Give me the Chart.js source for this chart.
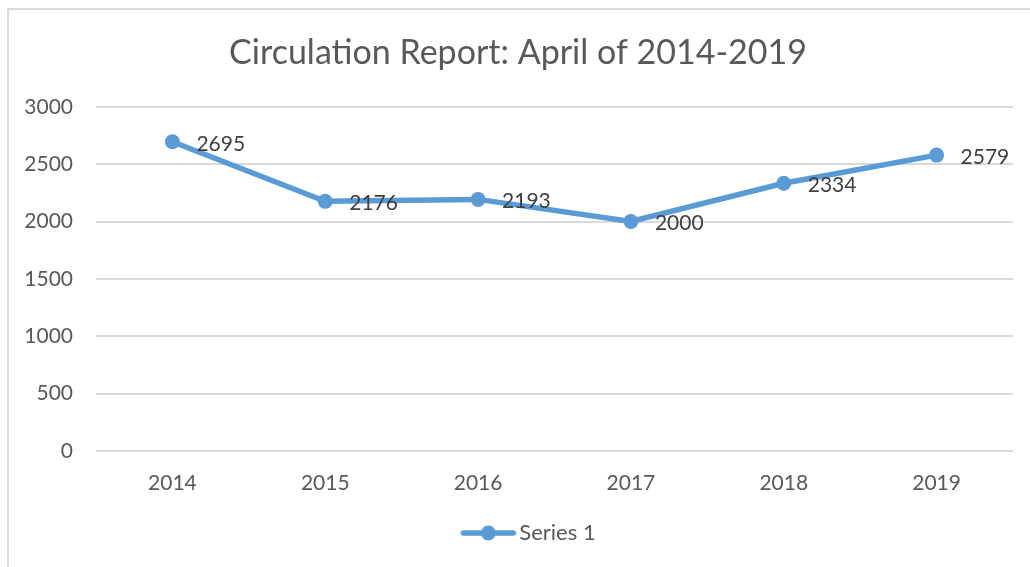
<!DOCTYPE html>
<html>
<head>
<meta charset="utf-8">
<script src="https://cdn.jsdelivr.net/npm/chart.js@4.4.1/dist/chart.umd.min.js"></script>
<style>
  html, body { margin: 0; padding: 0; background: #fff; overflow: hidden; }
  #wrap { position: relative; width: 1030px; height: 567px; }
  #frame { position: absolute; left: 7px; top: 8px; width: 1040px; height: 600px; border: 2px solid #d9d9d9; box-sizing: border-box; }
  #chart { position: absolute; left: 0; top: 0; }
</style>
</head>
<body>
<div id="wrap">
  <div id="frame"></div>
  <canvas id="chart" width="1030" height="567"></canvas>
</div>
<script>
// data
const years = ['2014', '2015', '2016', '2017', '2018', '2019'];
const circulation = [2695, 2176, 2193, 2000, 2334, 2579];
const seriesName = 'Series 1';
const titleText = 'Circulation Report: April of 2014-2019';

const blue = '#5b9bd5';
const fontFam = 'Lato, "Open Sans", sans-serif';

// legend marker: line with a dot in the middle
// (drawn off-centre in its canvas so it sits where the reference has it)
const marker = document.createElement('canvas');
marker.width = 88;
marker.height = 16;
(function () {
    const c = marker.getContext('2d');
    c.strokeStyle = blue;
    c.lineWidth = 5.5;
    c.lineCap = 'round';
    c.beginPath();
    c.moveTo(33, 8);
    c.lineTo(83, 8);
    c.stroke();
    c.fillStyle = blue;
    c.beginPath();
    c.arc(58, 8, 7.5, 0, Math.PI * 2);
    c.fill();
})();

// value labels to the right of each point
const valueLabels = {
    id: 'valueLabels',
    afterDatasetsDraw(chart) {
        const ctx = chart.ctx;
        const meta = chart.getDatasetMeta(0);
        ctx.save();
        ctx.font = '21px ' + fontFam;
        ctx.fillStyle = '#404040';
        ctx.textAlign = 'left';
        ctx.textBaseline = 'middle';
        meta.data.forEach((pt, i) => {
            ctx.fillText(String(chart.data.datasets[0].data[i]), pt.x + 24, pt.y + 2);
        });
        ctx.restore();
    }
};

new Chart(document.getElementById('chart').getContext('2d'), {
    type: 'line',
    data: {
        labels: years,
        datasets: [{
            label: seriesName,
            data: circulation,
            borderColor: blue,
            backgroundColor: blue,
            borderWidth: 5.5,
            pointRadius: 7.5,
            pointHoverRadius: 7.5,
            pointBackgroundColor: blue,
            pointBorderWidth: 0,
            tension: 0,
            fill: false
        }]
    },
    options: {
        responsive: false,
        animation: false,
        devicePixelRatio: 1,
        layout: { padding: { left: 23, right: 17, top: 0, bottom: 13 } },
        plugins: {
            title: {
                display: true,
                text: titleText,
                color: '#595959',
                font: { family: fontFam, size: 34, weight: 'normal' },
                padding: { top: 33, bottom: 33 }
            },
            legend: {
                display: true,
                position: 'bottom',
                labels: {
                    color: '#595959',
                    font: { family: fontFam, size: 22 },
                    usePointStyle: true,
                    pointStyleWidth: 68,
                    padding: 10,
                    generateLabels(chart) {
                        return [{
                            text: seriesName,
                            pointStyle: marker,
                            fillStyle: blue,
                            strokeStyle: blue,
                            lineWidth: 0,
                            fontColor: '#595959',
                            datasetIndex: 0
                        }];
                    }
                }
            },
            tooltip: { enabled: false }
        },
        scales: {
            x: {
                offset: true,
                grid: { display: false, drawTicks: false },
                border: { display: false },
                ticks: {
                    color: '#595959',
                    font: { family: fontFam, size: 21 },
                    padding: 20,
                    maxRotation: 0
                },
                afterFit(scale) { scale.height = 61; }
            },
            y: {
                min: 0,
                max: 3000,
                grid: { color: '#d9d9d9', lineWidth: 2, drawTicks: false },
                border: { display: false },
                ticks: {
                    stepSize: 500,
                    color: '#595959',
                    font: { family: fontFam, size: 21 },
                    padding: 23,
                    callback: (v) => String(v)
                },
                afterFit(scale) { scale.width = 73; }
            }
        }
    },
    plugins: [valueLabels]
});
</script>
</body>
</html>
